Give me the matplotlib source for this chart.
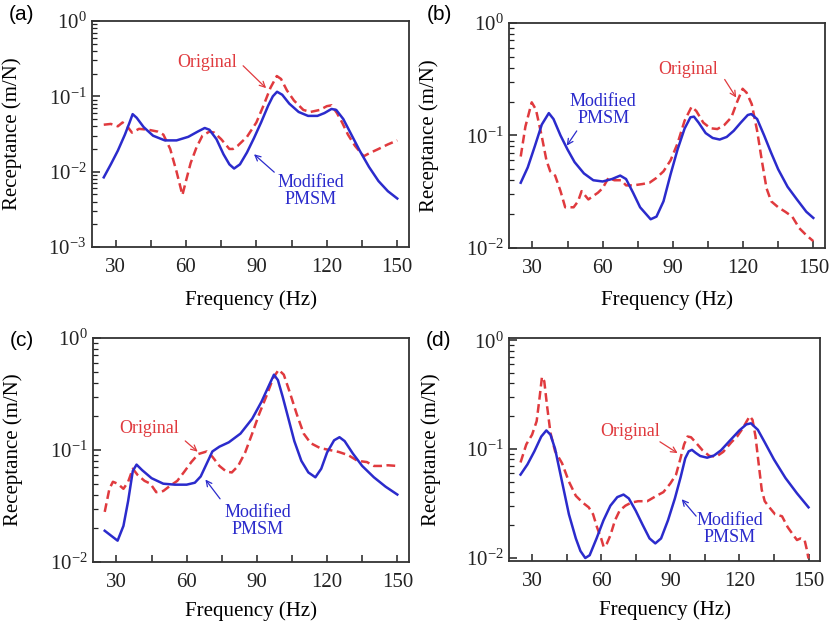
import numpy as np
import matplotlib
matplotlib.use("Agg")
import matplotlib.pyplot as plt
from matplotlib.ticker import MultipleLocator, LogLocator, NullFormatter

plt.rcParams["font.family"] = ["Liberation Serif", "DejaVu Serif"]
plt.rcParams["mathtext.fontset"] = "custom"
plt.rcParams["mathtext.rm"] = "Liberation Serif"

# %%
# Receptance curves (Hz, m/N)

a_freq_mod = [25, 28, 31, 34, 36, 37.3, 39, 42, 46, 51, 56, 61, 65, 68, 70, 73, 76, 78.5, 80.5, 83,
              86, 89, 92, 95, 97, 98.8, 101, 104, 108, 112, 116, 119, 122, 124, 127, 130, 134, 138,
              142, 146, 150]
a_mod = [0.0084, 0.0125, 0.019, 0.031, 0.045, 0.058, 0.052, 0.039, 0.030, 0.026, 0.026, 0.029, 0.034,
         0.038, 0.036, 0.027, 0.017, 0.0125, 0.011, 0.0125, 0.018, 0.028, 0.045, 0.075, 0.10, 0.115,
         0.105, 0.080, 0.062, 0.055, 0.055, 0.060, 0.068, 0.066, 0.050, 0.033, 0.019, 0.0115, 0.0075,
         0.0055, 0.0044]
a_freq_orig = [25, 28, 31, 33, 35, 37, 40, 44, 48, 50.4, 53.3, 56, 58.5, 60, 62, 64.5, 67, 70, 72, 75,
               78.5, 80, 82, 86, 90, 93, 96, 98.7, 100.5, 103, 106, 110, 113, 117, 120, 122, 124.3,
               126.5, 129, 132, 135.7, 138, 142, 146, 150]
a_orig = [0.042, 0.043, 0.040, 0.045, 0.040, 0.033, 0.037, 0.036, 0.034, 0.031, 0.020, 0.010, 0.0049,
          0.0075, 0.013, 0.021, 0.030, 0.034, 0.033, 0.027, 0.020, 0.020, 0.022, 0.029, 0.045, 0.075,
          0.13, 0.186, 0.17, 0.12, 0.088, 0.066, 0.062, 0.066, 0.074, 0.076, 0.060, 0.045, 0.031,
          0.022, 0.016, 0.0175, 0.020, 0.023, 0.026]

b_freq_mod = [25, 28, 31, 34, 37, 39, 42, 45, 48, 52, 56, 60, 64, 67.5, 70, 73, 76, 80.5, 83, 86, 89,
              92, 95, 97.5, 99, 101, 104, 107, 110, 113, 116, 119, 122, 123.5, 126, 129, 132, 135,
              139, 143, 147, 150]
b_mod = [0.038, 0.052, 0.080, 0.125, 0.158, 0.14, 0.10, 0.075, 0.058, 0.046, 0.040, 0.039, 0.041,
         0.044, 0.041, 0.031, 0.023, 0.018, 0.019, 0.026, 0.045, 0.075, 0.115, 0.145, 0.147, 0.13,
         0.105, 0.095, 0.092, 0.097, 0.11, 0.13, 0.152, 0.155, 0.14, 0.10, 0.070, 0.050, 0.035,
         0.027, 0.021, 0.0185]
b_freq_orig = [25, 27, 29.7, 31.5, 34, 36, 37.6, 39.7, 42, 44, 47.6, 49.5, 51, 53.9, 56, 58, 60, 62.5,
               65, 68, 70, 73, 77, 80, 83, 86, 89, 92, 95, 98, 100, 103, 106, 109, 112, 115, 117.5,
               119.8, 121.5, 123.7, 126, 128, 130, 132, 135, 138, 141, 144, 147, 150]
b_orig = [0.065, 0.12, 0.197, 0.17, 0.098, 0.06, 0.048, 0.044, 0.032, 0.023, 0.023, 0.026, 0.032,
          0.027, 0.029, 0.031, 0.034, 0.042, 0.040, 0.040, 0.036, 0.036, 0.037, 0.038, 0.042, 0.048,
          0.060, 0.085, 0.135, 0.18, 0.165, 0.13, 0.116, 0.114, 0.124, 0.145, 0.20, 0.26, 0.24, 0.19,
          0.11, 0.06, 0.034, 0.026, 0.023, 0.021, 0.019, 0.015, 0.013, 0.0115]

c_freq_mod = [25, 28, 30.5, 33, 35, 37, 38.6, 41, 45, 50, 55, 60, 63.5, 66, 68.5, 71, 74, 78, 83, 88,
              92, 95, 97.3, 99, 101, 103.5, 106, 109, 112, 115, 117.5, 120, 123, 125.3, 127.5, 131,
              135, 140, 145, 150]
c_mod = [0.019, 0.017, 0.0155, 0.021, 0.035, 0.065, 0.074, 0.066, 0.056, 0.050, 0.049, 0.049, 0.051,
         0.058, 0.075, 0.097, 0.107, 0.117, 0.14, 0.19, 0.27, 0.37, 0.47, 0.42, 0.30, 0.19, 0.12,
         0.08, 0.063, 0.057, 0.068, 0.095, 0.122, 0.13, 0.12, 0.093, 0.072, 0.057, 0.047, 0.040]
c_freq_orig = [25, 27, 28.5, 30.5, 33, 35, 37, 39, 42, 44.5, 47, 50, 53, 56, 59, 62, 65, 68.6, 71, 74,
               77, 79.3, 82, 85, 88, 91, 94, 97, 99.3, 101.5, 104, 107, 110, 113, 117, 121, 125, 129,
               133, 137, 140, 143, 146, 150]
c_orig = [0.028, 0.045, 0.052, 0.050, 0.045, 0.052, 0.068, 0.060, 0.053, 0.050, 0.042, 0.043, 0.048,
          0.053, 0.064, 0.078, 0.092, 0.097, 0.087, 0.072, 0.064, 0.063, 0.072, 0.095, 0.14, 0.21,
          0.30, 0.44, 0.52, 0.47, 0.33, 0.21, 0.14, 0.115, 0.104, 0.100, 0.096, 0.090, 0.080, 0.078,
          0.072, 0.072, 0.073, 0.072]

d_freq_mod = [25, 28, 31, 34, 36.2, 38, 40, 43, 46, 49, 51, 53.1, 55, 58, 61, 64, 67, 69.7, 72, 75,
              78, 81, 83.5, 86, 89, 92, 94.5, 96.5, 98, 99.4, 101, 103, 106, 109, 112, 116, 120, 123,
              125, 128, 131, 135, 140, 145, 150]
d_mod = [0.058, 0.072, 0.095, 0.13, 0.148, 0.135, 0.10, 0.05, 0.025, 0.015, 0.0115, 0.0099, 0.0105,
         0.015, 0.022, 0.030, 0.036, 0.038, 0.035, 0.027, 0.020, 0.015, 0.0135, 0.015, 0.022, 0.035,
         0.055, 0.082, 0.095, 0.098, 0.092, 0.086, 0.083, 0.087, 0.097, 0.12, 0.148, 0.168, 0.172,
         0.15, 0.115, 0.080, 0.054, 0.039, 0.029]
d_freq_orig = [25, 27.5, 30, 32, 33.3, 34.3, 35.3, 36.5, 38, 40, 43, 46, 49, 52, 54.6, 56.5, 58.2, 60,
               61.1, 62.5, 64, 66, 68, 70.5, 73, 76, 80, 84, 87, 90, 92.5, 94.3, 96, 97.5, 99, 101,
               104, 107, 110, 113, 116.5, 119, 121.5, 123.2, 124.5, 125.7, 127, 128.3, 129.7, 131,
               133, 135.5, 138.5, 141, 143.5, 145, 146.5, 148.3, 149.2, 150]
d_orig = [0.075, 0.11, 0.135, 0.18, 0.30, 0.46, 0.42, 0.25, 0.14, 0.095, 0.074, 0.050, 0.037, 0.032,
          0.029, 0.025, 0.019, 0.015, 0.0125, 0.0135, 0.016, 0.022, 0.027, 0.030, 0.032, 0.033, 0.033,
          0.037, 0.040, 0.048, 0.058, 0.080, 0.11, 0.13, 0.128, 0.115, 0.097, 0.086, 0.085, 0.094,
          0.115, 0.13, 0.155, 0.18, 0.20, 0.185, 0.13, 0.075, 0.042, 0.033, 0.029, 0.025, 0.024,
          0.019, 0.016, 0.0145, 0.015, 0.0145, 0.012, 0.0098]

panel_tags = ["(a)", "(b)", "(c)", "(d)"]

BLUE = "#2b2bcc"
RED = "#e03a3e"

# %%
# Layout: four axes placed to match the reference figure

fig = plt.figure(figsize=(8.32, 6.27), dpi=100)
axes_rects = [
    [0.1106, 0.6061, 0.3810, 0.3604],
    [0.6118, 0.6045, 0.3798, 0.3589],
    [0.1118, 0.1037, 0.3798, 0.3573],
    [0.6118, 0.1053, 0.3738, 0.3557],
]
ylims = [(1e-3, 1.0), (1e-2, 1.0), (1e-2, 1.0), (0.0093, 1.05)]
xlabel_offsets = [-0.19, -0.19, -0.175, -0.175]

panels = [
    (a_freq_mod, a_mod, a_freq_orig, a_orig),
    (b_freq_mod, b_mod, b_freq_orig, b_orig),
    (c_freq_mod, c_mod, c_freq_orig, c_orig),
    (d_freq_mod, d_mod, d_freq_orig, d_orig),
]

# (text xy, arrow tail, arrow tip) in data coordinates
orig_notes = [
    ((69, 0.277), (83.5, 0.27), (95, 0.121)),
    ((96.7, 0.382), (111.5, 0.33), (117.7, 0.207)),
    ((44, 0.156), (58.5, 0.125), (65.6, 0.093)),
    ((72.6, 0.145), (84.5, 0.12), (94.2, 0.0886)),
]
mod_notes = [
    ((113, 0.0055), (98.5, 0.0093), (88.1, 0.018)),
    ((60.3, 0.169), (49.6, 0.115), (44, 0.0774)),
    ((90.4, 0.023), (75, 0.035), (67.3, 0.057)),
    ((115.9, 0.0183), (102, 0.023), (94.2, 0.036)),
]

for i, rect in enumerate(axes_rects):
    ax = fig.add_axes(rect)
    f_mod, v_mod, f_orig, v_orig = panels[i]
    ax.plot(f_orig, v_orig, color=RED, linewidth=1.8, linestyle="--", dashes=(3.5, 1.8))
    ax.plot(f_mod, v_mod, color=BLUE, linewidth=1.8)

    ax.set_yscale("log")
    ax.set_xlim(20, 155)
    ax.set_ylim(*ylims[i])
    ax.xaxis.set_major_locator(MultipleLocator(30))
    ax.xaxis.set_minor_locator(MultipleLocator(15))
    ax.yaxis.set_major_locator(LogLocator(base=10, numticks=10))
    ax.yaxis.set_minor_locator(LogLocator(base=10, subs=np.arange(2, 10), numticks=10))
    ax.yaxis.set_minor_formatter(NullFormatter())
    ax.tick_params(axis="both", which="both", direction="in", top=False, right=False,
                   labelsize=15, colors="#222222")
    ax.tick_params(axis="x", which="major", length=5, width=1.1, pad=8)
    ax.tick_params(axis="x", which="minor", length=5, width=1.1)
    ax.tick_params(axis="y", which="major", length=6, width=1.1, pad=4)
    ax.tick_params(axis="y", which="minor", length=3.5, width=0.9)
    for spine in ax.spines.values():
        spine.set_linewidth(1.3)
        spine.set_color("#333333")

    ax.set_xlabel("Frequency (Hz)", fontsize=15)
    ax.set_ylabel("Receptance (m/N)", fontsize=15)
    ax.xaxis.set_label_coords(0.5, xlabel_offsets[i])
    ax.yaxis.set_label_coords(-0.22, 0.5)

    txt, tail, tip = orig_notes[i]
    ax.text(*txt, "Original", color=RED, fontsize=13, ha="center", va="center")
    ax.annotate("", xy=tip, xytext=tail,
                arrowprops=dict(arrowstyle="->", color=RED, lw=0.9))
    txt, tail, tip = mod_notes[i]
    ax.text(*txt, "Modified\nPMSM", color=BLUE, fontsize=13, ha="center", va="center",
            linespacing=1.0)
    ax.annotate("", xy=tip, xytext=tail,
                arrowprops=dict(arrowstyle="->", color=BLUE, lw=0.9))

tag_positions = [(22, 15), (439, 15), (22, 341), (439, 341)]
for tag, (px, py) in zip(panel_tags, tag_positions):
    fig.text(px / 832, 1 - py / 627, tag, fontsize=15, family="Liberation Sans",
             ha="center", va="center")

fig.savefig("out.png", dpi=100, facecolor="white")
